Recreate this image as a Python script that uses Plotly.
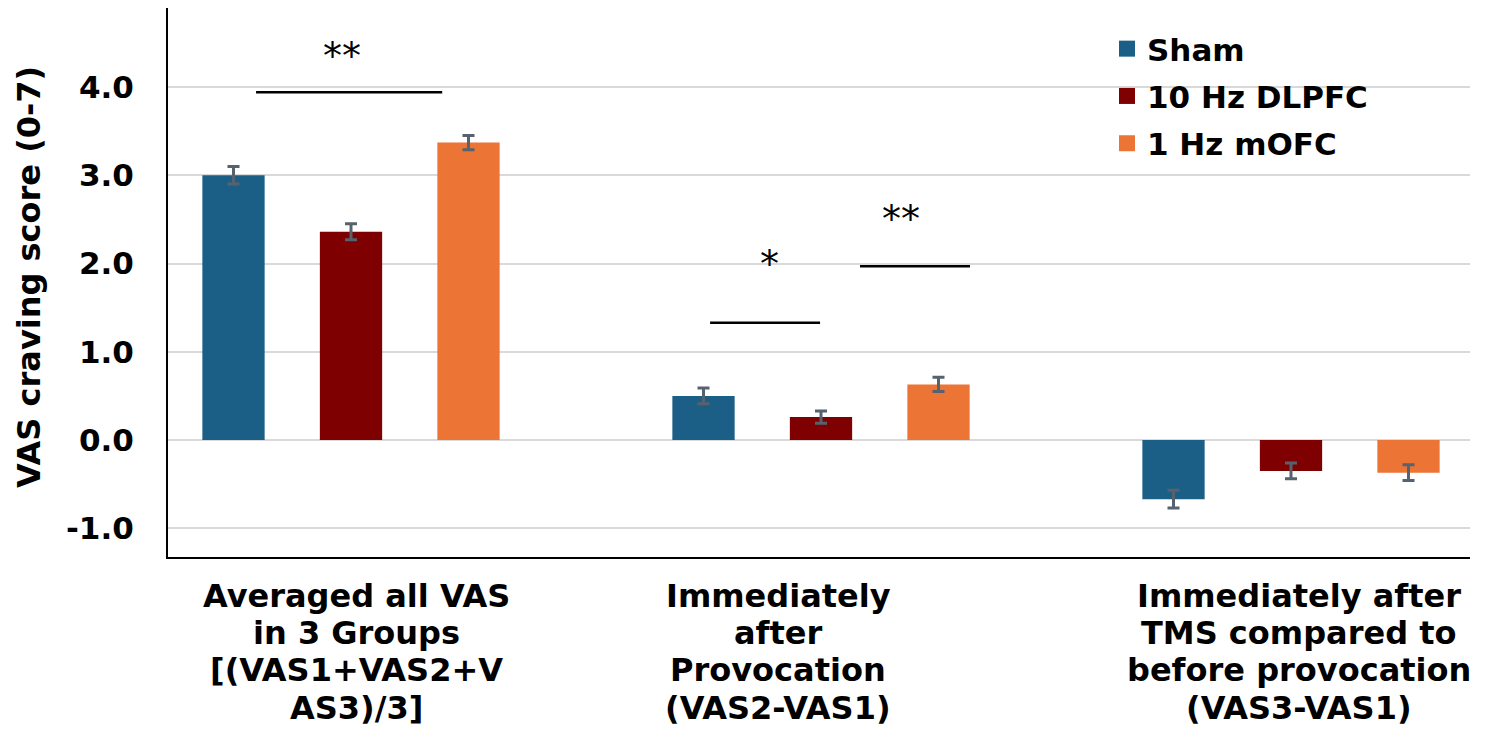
import plotly.graph_objects as go

# ---- data ----
categories = ["avg", "provocation", "tms"]
category_labels = [
    ["Averaged all VAS", "in 3 Groups", "[(VAS1+VAS2+V", "AS3)/3]"],
    ["Immediately", "after", "Provocation", "(VAS2-VAS1)"],
    ["Immediately after", "TMS compared to", "before provocation", "(VAS3-VAS1)"],
]
series_names = ["Sham", "10 Hz DLPFC", "1 Hz mOFC"]
sham = [3.00, 0.50, -0.67]
dlpfc = [2.36, 0.26, -0.35]
mofc = [3.37, 0.63, -0.37]
sham_err = [0.10, 0.09, 0.10]
dlpfc_err = [0.09, 0.07, 0.09]
mofc_err = [0.08, 0.08, 0.09]
y_ticks = [-1, 0, 1, 2, 3, 4]
y_tick_labels = ["-1.0", "0.0", "1.0", "2.0", "3.0", "4.0"]

# significance brackets
sig_x0 = [-0.202, 0.764, 1.083]
sig_x1 = [0.194, 0.998, 1.317]
sig_y = [3.94, 1.33, 1.97]
sig_text = ["**", "*", "**"]
sig_text_x = [-0.02, 0.89, 1.17]
sig_text_y = [4.35, 2.0, 2.5]

# ---- styles ----
colors = ["#1b5e86", "#7f0000", "#ec7434"]
FONT = "DejaVu Sans"
err_color = "#56636e"

# plot area in pixels
W, H = 1500, 756
PL, PR, PT, PB = 168, 1470, 8, 557

fig = go.Figure()
for name, vals, errs, col in zip(series_names, [sham, dlpfc, mofc],
                                 [sham_err, dlpfc_err, mofc_err], colors):
    fig.add_trace(go.Bar(
        x=categories, y=vals, name=name, marker_color=col, marker_line_width=0,
        error_y=dict(type="data", array=errs, visible=True, color=err_color,
                     thickness=3, width=6),
        showlegend=False,
    ))
    fig.add_trace(go.Scatter(
        x=[None], y=[None], mode="markers", name=name,
        marker=dict(symbol="square", size=16, color=col),
        legendgroup=name, showlegend=True,
    ))

def py(ypix):
    return (PB - ypix) / (PB - PT)

annotations = []
label_x = [0.011, 0.909, 2.017]
line_y_pix = [596, 633, 670, 708]
for lx, lines in zip(label_x, category_labels):
    for ln, yp in zip(lines, line_y_pix):
        annotations.append(dict(
            x=lx, xref="x", y=py(yp), yref="paper", text=ln, showarrow=False,
            xanchor="center", yanchor="middle",
            font=dict(family=FONT, size=32, color="black", weight="bold"),
        ))

for t, tx, ty in zip(sig_text, sig_text_x, sig_text_y):
    annotations.append(dict(
        x=tx, xref="x", y=ty, yref="y", text=t, showarrow=False,
        xanchor="center", yanchor="middle",
        font=dict(family=FONT, size=38, color="black"),
    ))

annotations.append(dict(
    x=(29 - PL) / (PR - PL), xref="paper", y=py(277), yref="paper",
    text="VAS craving score (0-7)", textangle=-90, showarrow=False,
    xanchor="center", yanchor="middle",
    font=dict(family=FONT, size=32, color="black", weight="bold"),
))

shapes = []
for x0, x1, y in zip(sig_x0, sig_x1, sig_y):
    shapes.append(dict(type="line", xref="x", yref="y", x0=x0, x1=x1, y0=y, y1=y,
                       line=dict(color="black", width=2.5)))

xr = [(PL - 351) / 470, (PR - 351) / 470]
yr = [-(PB - 440) / 88.25, (440 - PT) / 88.25]

fig.update_layout(
    width=W, height=H,
    margin=dict(l=PL, r=W - PR, t=PT, b=H - PB, autoexpand=False),
    paper_bgcolor="white", plot_bgcolor="white",
    barmode="group", bargap=0.25, bargroupgap=0.47,
    font=dict(family=FONT, color="black"),
    xaxis=dict(range=xr, showgrid=False, showticklabels=False, ticks="",
               showline=True, linecolor="black", linewidth=2, zeroline=False,
               fixedrange=True),
    yaxis=dict(range=yr, tickvals=y_ticks, ticktext=y_tick_labels, showgrid=True,
               gridcolor="#d9d9d9", gridwidth=2, zeroline=False,
               showline=True, linecolor="black", linewidth=2, ticks="",
               ticklabelstandoff=26,
               tickfont=dict(family=FONT, size=31, color="black", weight="bold")),
    legend=dict(x=(1107 - PL) / (PR - PL), xanchor="left", y=py(22), yanchor="top",
                bgcolor="rgba(0,0,0,0)", traceorder="grouped", tracegroupgap=4,
                font=dict(family=FONT, size=31, color="black", weight="bold"),
                itemsizing="trace"),
    annotations=annotations, shapes=shapes,
)

fig.write_html("out.html")
